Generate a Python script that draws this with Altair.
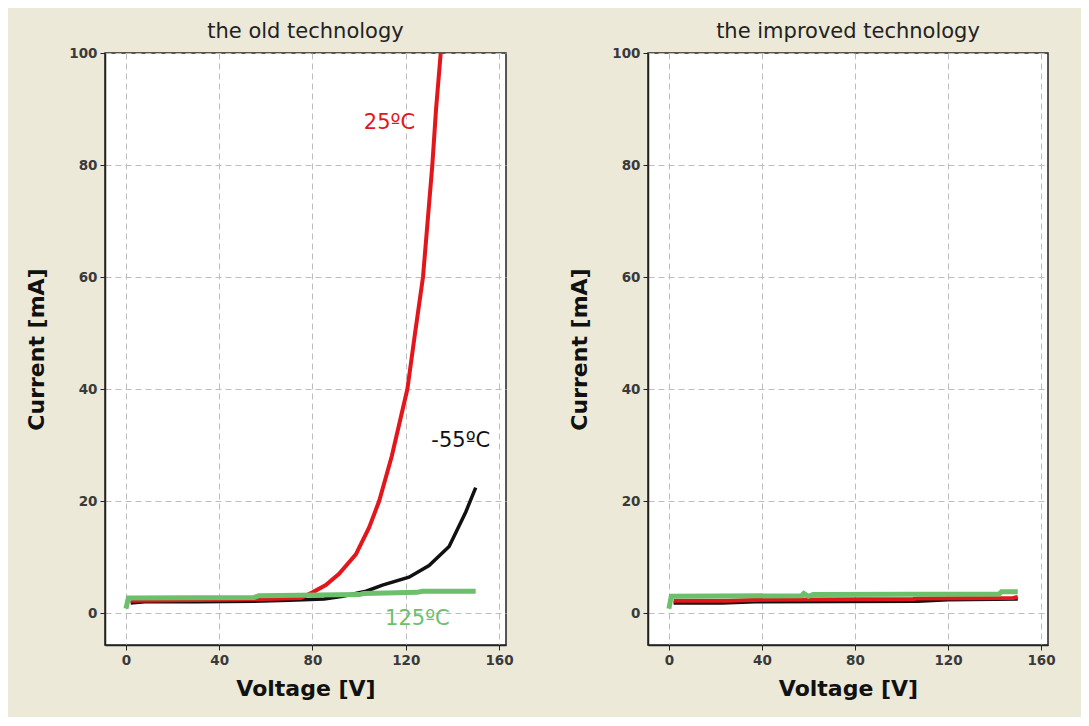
import altair as alt
import pandas as pd

# ---- data ----
old_red_x = [2, 20, 40, 60, 75, 80, 85.7, 91.4, 98.6, 104.3, 108.6, 114, 120.7, 124, 127.4, 131.4, 133, 135]
old_red_y = [2.2, 2.3, 2.4, 2.5, 2.7, 3.7, 5, 7, 10.5, 15.3, 20, 28, 40, 50, 60, 80, 90, 100]

old_black_x = [2, 8, 30, 55, 70, 85, 93, 103, 110, 121.4, 130, 138.6, 145.7, 150]
old_black_y = [1.8, 2.0, 2.0, 2.1, 2.3, 2.5, 3.0, 3.9, 5.0, 6.4, 8.5, 11.9, 18, 22.4]

old_green_x = [0, 1, 55, 57, 100, 102, 125, 127, 150]
old_green_y = [0.8, 2.7, 2.8, 3.1, 3.3, 3.5, 3.7, 3.9, 3.9]

new_black_x = [2, 23, 37, 107, 120, 150]
new_black_y = [1.8, 1.8, 2.0, 2.1, 2.4, 2.5]

new_red_x = [2, 25, 40, 105, 107, 148, 150]
new_red_y = [2.2, 2.2, 2.4, 2.5, 2.6, 2.7, 2.9]

new_green_x = [0, 1, 57, 58, 60, 62, 142, 143, 150]
new_green_y = [0.8, 3.0, 3.1, 3.5, 3.0, 3.3, 3.4, 3.8, 3.8]

label_text = ["25ºC", "-55ºC", "125ºC"]
label_x = [113, 143.6, 125]
label_y = [87.5, 30.7, -1.1]
label_series = ["red", "black", "green"]

x_ticks = [0, 40, 80, 120, 160]
y_ticks = [0, 20, 40, 60, 80, 100]
titles = ["the old technology", "the improved technology"]

COLORS = {"black": "#111111", "red": "#E3161B", "green": "#6CC06C"}
WIDTHS = {"black": 3.5, "red": 4, "green": 5}
FONT = "DejaVu Sans"


def frame(series, xs, ys):
    return pd.DataFrame({"series": series, "V": xs, "I": ys, "order": range(len(xs))})


old = {
    "black": frame("black", old_black_x, old_black_y),
    "red": frame("red", old_red_x, old_red_y),
    "green": frame("green", old_green_x, old_green_y),
}
new = {
    "black": frame("black", new_black_x, new_black_y),
    "red": frame("red", new_red_x, new_red_y),
    "green": frame("green", new_green_x, new_green_y),
}

xscale = alt.Scale(domain=[-9, 163], nice=False, zero=False)
yscale = alt.Scale(domain=[-5.7, 100], nice=False, zero=False)

xaxis = alt.Axis(values=x_ticks, title="Voltage [V]", grid=True)
yaxis = alt.Axis(values=y_ticks, title="Current [mA]", grid=True)


def panel(title, data, width, labels=None):
    layers = []
    for s in ["black", "red", "green"]:
        layers.append(
            alt.Chart(data[s]).mark_line(
                color=COLORS[s], strokeWidth=WIDTHS[s], clip=True
            ).encode(
                x=alt.X("V:Q", scale=xscale, axis=xaxis),
                y=alt.Y("I:Q", scale=yscale, axis=yaxis),
                order="order:Q",
            )
        )
    if labels is not None:
        layers.append(
            alt.Chart(labels).mark_text(
                font=FONT, fontSize=21, align="center", baseline="middle"
            ).encode(
                x=alt.X("V:Q", scale=xscale),
                y=alt.Y("I:Q", scale=yscale),
                text="label:N",
                color=alt.Color("series:N", scale=alt.Scale(
                    domain=list(COLORS.keys()), range=list(COLORS.values())), legend=None),
            )
        )
    return alt.layer(*layers).properties(
        width=width, height=592,
        title=alt.TitleParams(title, font=FONT, fontSize=21, fontWeight="normal",
                              color="#222222", offset=4),
    )


labels_df = pd.DataFrame({"label": label_text, "V": label_x, "I": label_y, "series": label_series})

chart = alt.hconcat(
    panel(titles[0], old, 401, labels_df),
    panel(titles[1], new, 400),
    spacing=54,
).properties(
    background="#ECE9D8",
    padding={"left": 17, "top": 12, "right": 25, "bottom": 16},
).configure_view(
    fill="white", stroke="#222222", strokeWidth=1.5
).configure_axis(
    labelFont=FONT, labelFontSize=13.5, labelFontWeight="bold", labelColor="#3A3A3A",
    titleFont=FONT, titleFontSize=22, titleFontWeight="bold", titleColor="#111111",
    gridColor="#BDBDBD", gridDash=[6, 4], gridWidth=1,
    domainColor="#222222", domainWidth=1.5,
    tickColor="#222222", tickSize=5, labelPadding=3,
).configure_axisY(
    titlePadding=20,
).configure_axisX(
    titlePadding=12,
)

chart.save("out.html", embed_options={"renderer": "svg", "actions": False})
